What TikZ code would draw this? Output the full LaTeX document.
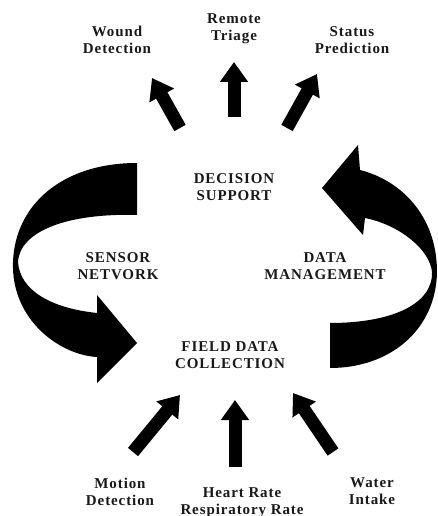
\documentclass[tikz,border=0pt]{standalone}
\usepackage{fontspec}
\setmainfont{Liberation Serif}
\usetikzlibrary{arrows.meta}
\tikzset{
  lbl/.style={font=\fontsize{15}{17}\selectfont\bfseries\addfontfeatures{LetterSpace=6}, align=center, text=black!90, inner sep=0pt},
  straightarrow/.style={line width=13pt, -{Triangle[length=20pt,width=27pt]}, black},
  bigarrow/.style={fill=black, draw=none}
}
\begin{document}
\begin{tikzpicture}[x=1pt,y=-1pt]
\useasboundingbox (0,0) rectangle (438,516);
\fill[white] (0,0) rectangle (438,516);

% labels
\node[lbl] (wound) at (117,40) {Wound\\Detection};
\node[lbl] (triage) at (234,29) {Remote\\Triage};
\node[lbl] (status) at (352,40) {Status\\Prediction};
\node[lbl] (decision) at (234,187) {DECISION\\SUPPORT};
\node[lbl] (sensor) at (118,266) {SENSOR\\NETVORK};
\node[lbl] (datam) at (325,266) {DATA\\MANAGEMENT};
\node[lbl] (field) at (230,355) {FIELD DATA\\COLLECTION};
\node[lbl] (motion) at (120,492) {Motion\\Detection};
\node[lbl] (heart) at (242,503) {Heart Rate\\Respiratory Rate};
\node[lbl] (water) at (372,491) {Water\\Intake};

% straight arrow end points
\coordinate (t1) at (180,128); \coordinate (h1) at (152,78);
\coordinate (t2) at (234,117); \coordinate (h2) at (234,62);
\coordinate (t3) at (287,128); \coordinate (h3) at (317,74);
\coordinate (t4) at (133,452); \coordinate (h4) at (180,395);
\coordinate (t5) at (235,467); \coordinate (h5) at (235,400);
\coordinate (t6) at (333,452); \coordinate (h6) at (293,393);

\draw[straightarrow] (t1) -- (h1);
\draw[straightarrow] (t2) -- (h2);
\draw[straightarrow] (t3) -- (h3);
\draw[straightarrow] (t4) -- (h4);
\draw[straightarrow] (t5) -- (h5);
\draw[straightarrow] (t6) -- (h6);

% left curved arrow
\fill[bigarrow] (137,163) .. controls (62,163) and (15,205) .. (13,262)
  .. controls (11,320) and (60,355) .. (97,357)
  -- (97,383) -- (137,343) -- (97,295) -- (97,313)
  .. controls (50,308) and (20,290) .. (18,262)
  .. controls (20,230) and (70,213) .. (137,215) -- cycle;

% right curved arrow
\fill[bigarrow] (330,368) .. controls (390,368) and (436,330) .. (437,272)
  .. controls (437,215) and (400,180) .. (360,170)
  -- (358,145) -- (322,188) -- (363,235) -- (365,218)
  .. controls (400,225) and (430,250) .. (432,272)
  .. controls (433,305) and (390,323) .. (330,323) -- cycle;
\end{tikzpicture}
\end{document}
